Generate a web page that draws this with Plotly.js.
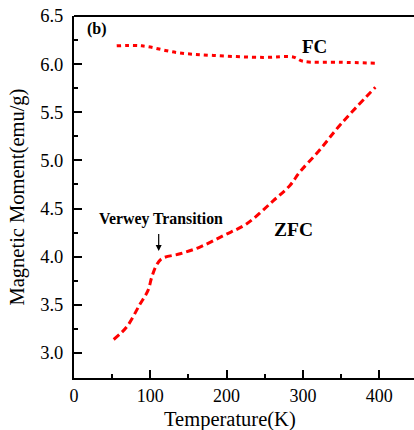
<!DOCTYPE html>
<html>
<head>
<meta charset="utf-8">
<script src="https://cdn.plot.ly/plotly-3.0.1.min.js"></script>
<style>html,body{margin:0;padding:0;overflow:hidden;background:#fff;}#chart{width:414px;height:430px;}</style>
</head>
<body>
<div id="chart"></div>
<script>
var fcTemp = [56, 89, 135, 183, 248, 287, 300, 349, 395];
var fcMoment = [6.19, 6.19, 6.12, 6.09, 6.07, 6.075, 6.03, 6.02, 6.01];
var zfcTemp = [52, 69, 86, 97, 102, 108, 115, 139, 165, 196, 226, 261, 283, 296, 320, 349, 395];
var zfcMoment = [3.14, 3.27, 3.50, 3.65, 3.79, 3.91, 3.98, 4.03, 4.10, 4.22, 4.34, 4.58, 4.74, 4.88, 5.09, 5.37, 5.76];
var xTickVals = [0, 100, 200, 300, 400];
var yTickVals = [3.0, 3.5, 4.0, 4.5, 5.0, 5.5, 6.0, 6.5];

var serif = 'Liberation Serif, Times New Roman, serif';
var traces = [
  {x: fcTemp, y: fcMoment, mode: 'lines', line: {color: '#ff0000', width: 3, dash: '4px,4px', shape: 'spline'}, name: 'FC'},
  {x: zfcTemp, y: zfcMoment, mode: 'lines', line: {color: '#ff0000', width: 3, dash: '7px,4px', shape: 'spline'}, name: 'ZFC'}
];
var layout = {
  width: 414, height: 430,
  margin: {l: 74, r: 0, t: 16, b: 52},
  showlegend: false,
  paper_bgcolor: '#fff', plot_bgcolor: '#fff',
  font: {family: serif, color: '#000'},
  xaxis: {
    range: [0, 445.6], showgrid: false, zeroline: false,
    showline: true, linecolor: '#000', linewidth: 2,
    ticks: 'inside', ticklen: 8, tickwidth: 2, tickcolor: '#000',
    tickvals: xTickVals, ticktext: xTickVals.map(String),
    tickfont: {size: 18, family: serif},
    ticklabelstandoff: 0,
    minor: {ticks: 'inside', ticklen: 4, tickwidth: 2, tickcolor: '#000', dtick: 50, tick0: 0}
  },
  yaxis: {
    range: [2.74, 6.5], showgrid: false, zeroline: false,
    showline: true, linecolor: '#000', linewidth: 2,
    ticks: 'inside', ticklen: 8, tickwidth: 2, tickcolor: '#000',
    tickvals: yTickVals, ticktext: yTickVals.map(function(v){return v.toFixed(1);}),
    tickfont: {size: 18.5, family: serif},
    ticklabelstandoff: 5,
    minor: {ticks: 'inside', ticklen: 4, tickwidth: 2, tickcolor: '#000', dtick: 0.25, tick0: 3.0},
    title: {text: 'Magnetic Moment(emu/g)', font: {size: 20.5, family: serif}, standoff: 10}
  },
  shapes: [
    {type: 'line', xref: 'paper', yref: 'paper', x0: 0, x1: 1, y0: 1, y1: 1, line: {color: '#000', width: 2}}
  ],
  annotations: [
    {x: 0.4588, y: -0.116, xref: 'paper', yref: 'paper', xanchor: 'center', yanchor: 'middle', text: 'Temperature(K)', showarrow: false, font: {size: 20.5, family: serif}},
    {x: 14, y: 6.365, xanchor: 'left', yanchor: 'middle', text: '<b>(b)</b>', showarrow: false, font: {size: 16, family: serif}},
    {x: 296, y: 6.18, xanchor: 'left', yanchor: 'middle', text: '<b>FC</b>', showarrow: false, font: {size: 19, family: serif}},
    {x: 260, y: 4.285, xanchor: 'left', yanchor: 'middle', text: '<b>ZFC</b>', showarrow: false, font: {size: 19.5, family: serif}},
    {x: 30, y: 4.39, xanchor: 'left', yanchor: 'middle', text: '<b>Verwey Transition</b>', showarrow: false, font: {size: 15.8, family: serif}},
    {x: 111, y: 4.06, ax: 111, ay: 4.25, axref: 'x', ayref: 'y', text: '', showarrow: true, arrowhead: 2, arrowsize: 1, arrowwidth: 1.2, arrowcolor: '#000'}
  ]
};
Plotly.newPlot('chart', traces, layout, {displayModeBar: false, staticPlot: true});
</script>
</body>
</html>
